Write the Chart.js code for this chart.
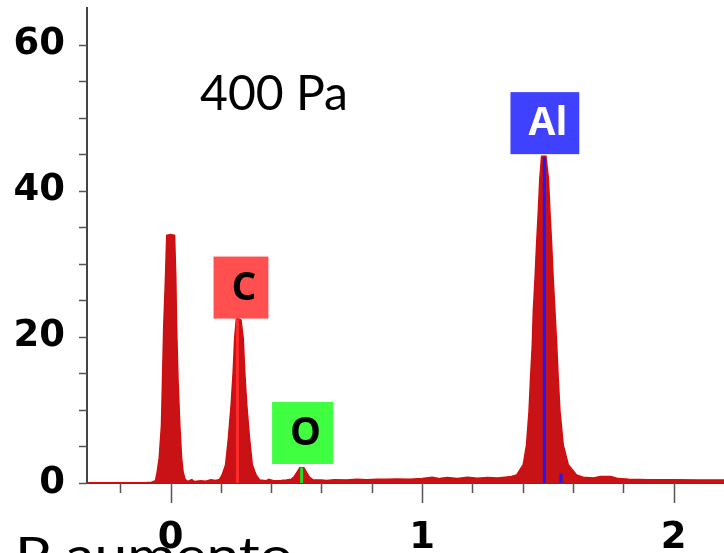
<!DOCTYPE html>
<html lang="en">
<head>
<meta charset="UTF-8">
<title>EDS spectrum 400 Pa</title>
<script src="https://cdn.jsdelivr.net/npm/chart.js@4.4.1/dist/chart.umd.min.js"></script>
<style>
  html, body { margin: 0; padding: 0; background: #fff; }
  #wrap { width: 724px; height: 553px; }
</style>
</head>
<body>
<div id="wrap"><canvas id="spectrum" width="724" height="553"></canvas></div>
<script>
// spectrum (energy in keV, counts)
const energy = [
  -0.332, -0.2, -0.1, -0.075,
  -0.060, -0.053, -0.045, -0.036, -0.032, -0.027, -0.020, -0.015, 0.000, 0.016,
  0.021, 0.024, 0.030, 0.037, 0.044, 0.050, 0.058, 0.068, 0.085, 0.095, 0.12, 0.14, 0.16, 0.18,
  0.195, 0.205, 0.219, 0.230, 0.241, 0.249, 0.255, 0.262, 0.280, 0.289, 0.295, 0.303, 0.314,
  0.325, 0.340, 0.355, 0.38, 0.39, 0.41, 0.44, 0.46,
  0.480, 0.492, 0.505, 0.514, 0.530, 0.540, 0.552, 0.565,
  0.60, 0.62, 0.65, 0.70, 0.74, 0.78, 0.82, 0.86, 0.90, 0.95, 1.00, 1.04, 1.07, 1.10,
  1.14, 1.18, 1.22, 1.26, 1.30, 1.33, 1.355,
  1.376, 1.402, 1.415, 1.425, 1.431, 1.438, 1.442, 1.449, 1.455, 1.462, 1.468, 1.475,
  1.492, 1.502, 1.508, 1.515, 1.521, 1.528, 1.535, 1.541, 1.548, 1.561, 1.581, 1.614,
  1.64, 1.68, 1.71, 1.75, 1.78, 1.82, 1.90, 2.00, 2.10, 2.20
];
const counts = [
  0.05, 0.05, 0.05, 0.1,
  0.3, 1.5, 3.4, 7.9, 13.9, 21.4, 28.1, 33.9, 34.0, 33.9,
  28.1, 21.4, 13.9, 7.9, 3.4, 1.5, 0.5, 0.2, 0.45, 0.2, 0.3, 0.25, 0.45, 0.35,
  0.5, 1.1, 2.5, 6.1, 10.7, 15.2, 19.8, 22.6, 22.3, 19.8, 15.2, 10.7, 6.1,
  2.5, 1.1, 0.4, 0.3, 0.5, 0.3, 0.35, 0.4,
  0.5, 0.9, 1.6, 2.1, 2.1, 1.5, 0.8, 0.45,
  0.4, 0.35, 0.45, 0.4, 0.5, 0.45, 0.5, 0.5, 0.55, 0.5, 0.6, 0.8, 0.6, 0.75,
  0.6, 0.8, 0.65, 0.75, 0.7, 0.8, 0.9,
  1.1, 2.5, 5.2, 9.8, 14.3, 18.9, 23.5, 28.0, 32.6, 37.2, 41.7, 44.7,
  44.7, 41.7, 37.2, 32.6, 28.0, 23.5, 18.9, 14.3, 9.8, 5.2, 2.5, 1.1,
  0.8, 0.7, 0.9, 0.9, 0.6, 0.5, 0.45, 0.45, 0.4, 0.4
];

// element marker lines
const lineEnergy = [0.266, 0.521, 1.486, 1.552];
const lineHeight = [22.4, 2.1, 44.6, 1.3];
const lineColor = ['#ff2a2a', '#22dd22', '#1a1aff', '#1a1aff'];

// element label boxes (bottom edge sits at labelBase counts)
const labelText = ['C', 'O', 'Al'];
const labelEnergy = [0.28, 0.525, 1.488];
const labelBase = [22.5, 2.6, 45.0];
const labelFill = ['#ff4f4f', '#40ff40', '#4040ff'];
const labelInk = ['#000', '#000', '#fff'];

// axis ticks
const xTicks = [-0.2, 0, 0.2, 0.4, 0.6, 0.8, 1, 1.2, 1.4, 1.6, 1.8, 2];
const yTicks = [0, 5, 10, 15, 20, 25, 30, 35, 40, 45, 50, 55, 60];

const datasets = [{
  data: energy.map((e, i) => ({ x: e, y: counts[i] })),
  borderColor: 'rgb(212,12,12)',
  backgroundColor: 'rgb(200,18,22)',
  borderWidth: 1.5,
  fill: 'origin',
  pointRadius: 0,
  tension: 0,
  order: 2
}];
lineEnergy.forEach((e, i) => {
  datasets.push({
    data: [{ x: e, y: 0 }, { x: e, y: lineHeight[i] }],
    borderColor: lineColor[i],
    borderWidth: 3,
    fill: false,
    pointRadius: 0,
    order: 1
  });
});

const decor = {
  id: 'decor',
  afterDatasetsDraw(chart) {
    const { ctx, scales: { x, y } } = chart;
    ctx.save();
    // label boxes
    ctx.font = 'bold 39px "Open Sans"';
    ctx.textAlign = 'center';
    ctx.textBaseline = 'middle';
    labelText.forEach((t, i) => {
      const cx = x.getPixelForValue(labelEnergy[i]);
      const bottom = y.getPixelForValue(labelBase[i]);
      const w = ctx.measureText(t).width + 30;
      const h = 62;
      ctx.fillStyle = labelFill[i];
      ctx.fillRect(cx - w / 2, bottom - h, w, h);
      ctx.fillStyle = labelInk[i];
      ctx.fillText(t, cx + 3, bottom - h / 2 + 1);
    });
    ctx.restore();
  },
  afterDraw(chart) {
    const { ctx, scales: { x, y } } = chart;
    ctx.save();
    ctx.strokeStyle = '#555';
    ctx.lineWidth = 1.5;
    ctx.beginPath();
    xTicks.forEach(v => {
      const px = Math.round(x.getPixelForValue(v)) + 0.5;
      const len = Number.isInteger(v) ? 20 : 10;
      ctx.moveTo(px, y.bottom);
      ctx.lineTo(px, y.bottom + len);
    });
    yTicks.forEach(v => {
      const py = Math.round(y.getPixelForValue(v)) + 0.5;
      ctx.moveTo(x.left - 8, py);
      ctx.lineTo(x.left, py);
    });
    ctx.stroke();

    // free text
    ctx.fillStyle = '#000';
    ctx.textAlign = 'left';
    ctx.textBaseline = 'alphabetic';
    ctx.font = '48px Lato';
    const put = (txt, left, base, width) => {
      const m = ctx.measureText(txt).width;
      ctx.save();
      ctx.translate(left, base);
      ctx.scale(width / m, 1);
      ctx.fillText(txt, 0, 0);
      ctx.restore();
    };
    put('400 Pa', 200, 110, 148);
    put('P aumento', 15, 572, 278);
    ctx.restore();
  }
};

new Chart(document.getElementById('spectrum'), {
  type: 'line',
  data: { datasets },
  options: {
    responsive: false,
    animation: false,
    layout: { padding: { top: 8, left: 0, right: 0, bottom: 0 } },
    plugins: { legend: { display: false }, tooltip: { enabled: false } },
    scales: {
      x: {
        type: 'linear',
        min: -0.332,
        max: 2.2,
        grid: { display: false, drawTicks: false },
        border: { display: true, color: '#444', width: 2 },
        ticks: {
          stepSize: 1,
          includeBounds: false,
          maxRotation: 0,
          padding: 33,
          color: '#000',
          font: { family: 'DejaVu Sans', size: 37, weight: 'bold' }
        },
        afterFit: s => { s.height = 70; s.paddingLeft = 0; s.paddingRight = 0; }
      },
      y: {
        min: 0,
        max: 65,
        grid: { display: false, drawTicks: false },
        border: { display: true, color: '#444', width: 2 },
        ticks: {
          stepSize: 20,
          includeBounds: false,
          padding: 22,
          color: '#000',
          font: { family: 'DejaVu Sans', size: 37, weight: 'bold' }
        },
        afterFit: s => { s.width = 87; s.paddingTop = 0; s.paddingBottom = 0; }
      }
    }
  },
  plugins: [decor]
});
</script>
</body>
</html>
